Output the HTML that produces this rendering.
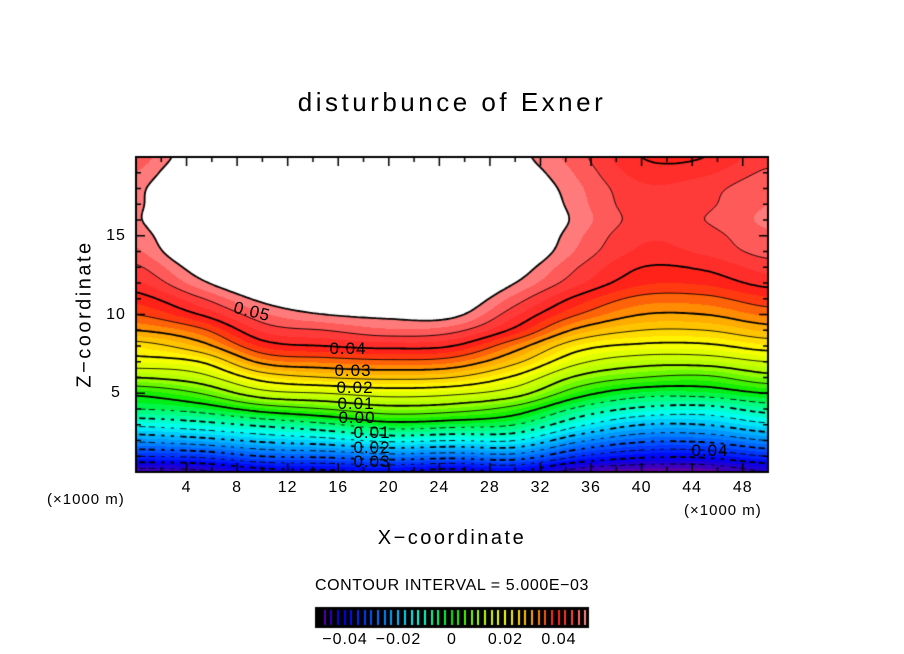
<!DOCTYPE html>
<html><head><meta charset="utf-8"><style>
body{margin:0;background:#fff;width:904px;height:654px;overflow:hidden;position:relative;font-family:"Liberation Sans",sans-serif}
.t{position:absolute;color:#000;white-space:nowrap}
</style></head><body>
<div class="t" style="left:0;width:904px;text-align:center;top:87px;font-size:26px;letter-spacing:3.5px">disturbunce of Exner</div>
<div class="t" style="left:85px;top:314px;font-size:20px;letter-spacing:2.5px;transform:translate(-50%,-50%) rotate(-90deg)">Z−coordinate</div>
<div class="t" style="left:0;width:904px;text-align:center;top:527px;font-size:20px;letter-spacing:2.5px">X−coordinate</div>
<div class="t" style="left:47px;top:491px;font-size:15px;letter-spacing:1px">(×1000 m)</div>
<div class="t" style="left:684px;top:502px;font-size:15px;letter-spacing:1px">(×1000 m)</div>
<div class="t" style="left:0;width:904px;text-align:center;top:577px;font-size:16px;letter-spacing:0.6px">CONTOUR INTERVAL = 5.000E−03</div>
<canvas id="c" width="904" height="654" style="position:absolute;left:0;top:0"></canvas>
<div id="lbl"></div>
<script>
const xs=[0,5,10,15,20,25,30,35,40,45,50];
const zs=[0,1,2,3,4,5,6,7,8,9,10,12,14,16,18,20];
const colX0=[-0.047,-0.035,-0.024,-0.014,-0.005,0.001,0.010,0.018,0.023,0.030,0.035,0.042,0.047,0.0495,0.049,0.046];
const colX5=[-0.046,-0.034,-0.022,-0.012,-0.003,0.005,0.013,0.020,0.028,0.034,0.040,0.049,0.055,0.058,0.058,0.054];
const colX10=[-0.042,-0.030,-0.019,-0.009,0.002,0.013,0.022,0.031,0.038,0.043,0.047,0.055,0.060,0.064,0.064,0.063];
const colX15=[-0.041,-0.029,-0.017,-0.006,0.005,0.015,0.025,0.033,0.040,0.045,0.050,0.058,0.064,0.067,0.067,0.066];
const colX20=[-0.040,-0.027,-0.014,-0.002,0.008,0.017,0.026,0.034,0.041,0.047,0.051,0.058,0.065,0.068,0.068,0.067];
const colX25=[-0.042,-0.028,-0.015,-0.003,0.007,0.016,0.025,0.033,0.040,0.046,0.051,0.057,0.063,0.066,0.066,0.064];
const colX30=[-0.040,-0.027,-0.015,-0.005,0.003,0.012,0.019,0.026,0.032,0.039,0.043,0.050,0.055,0.057,0.055,0.052];
const colX35=[-0.047,-0.035,-0.024,-0.014,-0.006,0.002,0.009,0.016,0.022,0.029,0.035,0.043,0.047,0.049,0.048,0.046];
const colX40=[-0.049,-0.039,-0.029,-0.020,-0.011,-0.003,0.005,0.012,0.019,0.025,0.030,0.038,0.042,0.044,0.043,0.040];
const colX45=[-0.049,-0.039,-0.029,-0.020,-0.012,-0.003,0.004,0.012,0.019,0.025,0.030,0.038,0.043,0.045,0.044,0.040];
const colX50=[-0.045,-0.035,-0.025,-0.016,-0.008,0.000,0.008,0.015,0.022,0.028,0.033,0.041,0.046,0.048,0.047,0.044];
const columns=[colX0,colX5,colX10,colX15,colX20,colX25,colX30,colX35,colX40,colX45,colX50];
const xTicks=[4,8,12,16,20,24,28,32,36,40,44,48];
const yTicks=[5,10,15];
const cbTicks=[-0.04,-0.02,0,0.02,0.04];
const cbTickLabels=["−0.04","−0.02","0","0.02","0.04"];

const L=136,R=768,T=157,B=472,XMAX=50,ZMAX=20;
const sx=x=>L+(x/XMAX)*(R-L), sz=z=>B-(z/ZMAX)*(B-T);
const U=columns.map(col=>{const o=[];for(let z=0;z<=20;z++){let i=0;while(i<zs.length-2&&zs[i+1]<z)i++;const t=(z-zs[i])/(zs[i+1]-zs[i]);o.push(col[i]+(col[i+1]-col[i])*Math.max(0,Math.min(1,t)));}return o;});
const NX=U.length,NZ=21,DX=xs[1]-xs[0];
function cr(p0,p1,p2,p3,t){return 0.5*(2*p1+(-p0+p2)*t+(2*p0-5*p1+4*p2-p3)*t*t+(-p0+3*p1-3*p2+p3)*t*t*t);}
function g(i,j){i=Math.max(0,Math.min(NX-1,i));j=Math.max(0,Math.min(NZ-1,j));return U[i][j];}
function val(x,z){const fx=x/DX,fz=z;let i=Math.min(NX-2,Math.floor(fx)),j=Math.min(NZ-2,Math.floor(fz));const tx=fx-i,tz=fz-j;const r=[];for(let a=-1;a<=2;a++)r.push(cr(g(i+a,j-1),g(i+a,j),g(i+a,j+1),g(i+a,j+2),tz));return cr(r[0],r[1],r[2],r[3],tx);}
const stops=[[-0.05,[110,0,160]],[-0.045,[40,0,200]],[-0.04,[0,0,245]],[-0.03,[0,90,255]],[-0.02,[0,190,255]],[-0.014,[0,255,240]],[-0.007,[0,255,140]],[0,[0,235,0]],[0.01,[170,255,0]],[0.02,[255,255,0]],[0.03,[255,160,0]],[0.038,[255,30,20]],[0.044,[255,60,60]],[0.05,[255,140,140]]];
function color(v){if(v<=stops[0][0])return stops[0][1];for(let k=1;k<stops.length;k++){if(v<=stops[k][0]){const a=stops[k-1],b=stops[k],t=(v-a[0])/(b[0]-a[0]);return a[1].map((c,q)=>Math.round(c+(b[1][q]-c)*t));}}return stops[stops.length-1][1];}
const cv=document.getElementById('c'),ctx=cv.getContext('2d');
const W=R-L,H=B-T,img=ctx.createImageData(W,H);
for(let py=0;py<H;py++)for(let px=0;px<W;px++){const x=(px+0.5)/W*XMAX,z=(H-py-0.5)/H*ZMAX;const v=val(x,z);let c;if(v>0.05)c=[255,255,255];else{const q=(Math.floor(v/0.0025)+0.5)*0.0025;c=color(q);}const o=(py*W+px)*4;img.data[o]=c[0];img.data[o+1]=c[1];img.data[o+2]=c[2];img.data[o+3]=255;}
ctx.putImageData(img,L,T);
const FX=200,FZ=160,F=[];for(let i=0;i<=FX;i++){F.push([]);for(let j=0;j<=FZ;j++)F[i].push(val(i/FX*XMAX,j/FZ*ZMAX));}
for(let k=-10;k<=10;k++){const lev=k*0.005;const thick=(k%2===0);ctx.strokeStyle='#000';ctx.lineWidth=thick?1.8:0.9;ctx.beginPath();
for(let i=0;i<FX;i++)for(let j=0;j<FZ;j++){const c=[[i,j],[i+1,j],[i+1,j+1],[i,j+1]];const vv=c.map(p=>F[p[0]][p[1]]);const pts=[];for(let e=0;e<4;e++){const a=vv[e],b=vv[(e+1)%4];if((a<lev)!==(b<lev)){const t=(lev-a)/(b-a);const p=c[e],q=c[(e+1)%4];pts.push([p[0]+(q[0]-p[0])*t,p[1]+(q[1]-p[1])*t]);}}
for(let m=0;m+1<pts.length;m+=2){const X1=sx(pts[m][0]/FX*XMAX),Y1=sz(pts[m][1]/FZ*ZMAX),X2=sx(pts[m+1][0]/FX*XMAX),Y2=sz(pts[m+1][1]/FZ*ZMAX);if(lev<0&&Math.floor((X1+X2)/2/5)%2===1)continue;ctx.moveTo(X1,Y1);ctx.lineTo(X2,Y2);}}
ctx.stroke();}
ctx.lineWidth=2;ctx.strokeStyle='#000';ctx.strokeRect(L,T,W,H);ctx.lineWidth=1.5;ctx.beginPath();
for(let x=2;x<50;x+=2){const l=(x%4===0)?9:5;ctx.moveTo(sx(x),B);ctx.lineTo(sx(x),B-l);ctx.moveTo(sx(x),T);ctx.lineTo(sx(x),T+l);}
for(let z=1;z<20;z++){const l=(z%5===0)?9:5;ctx.moveTo(L,sz(z));ctx.lineTo(L+l,sz(z));ctx.moveTo(R,sz(z));ctx.lineTo(R-l,sz(z));}
ctx.stroke();
const lbl=document.getElementById('lbl');
function addT(txt,x,y,fs,name,rot){const d=document.createElement('div');d.className='t';d.textContent=txt;d.style.fontSize=fs+'px';d.style.letterSpacing='1px';d.style.left=x+'px';d.style.top=y+'px';d.style.transform='translate(-50%,-50%)'+(rot?' rotate('+rot+'deg)':'');


lbl.appendChild(d);}
xTicks.forEach(x=>addT(String(x),sx(x),488,16,'x-tick-label'));
yTicks.forEach(z=>addT(String(z),116,sz(z),16,'y-tick-label'));
[["0.05",252,312,14],["0.04",348,349,0],["0.03",353,371,0],["0.02",355,388,0],["0.01",356,404,0],["0.00",357,418,0],["0.01",372,433,0],["0.02",372,448,0],["0.03",372,462,0],["0.04",710,451,0]].forEach(a=>addT(a[0],a[1],a[2],17,'contour-label',a[3]));
const CL=316,CR=588,CT=608,CB=627;ctx.fillStyle='#000';ctx.fillRect(CL,CT,CR-CL,CB-CT);
const cbx=v=>452+v/0.02*53.5;
for(let k=0;k<42;k++){const v=-0.0505+k*0.0025;const X=cbx(v);if(X<CL+3||X>CR-2)continue;const c=color(v);ctx.fillStyle='rgb('+c.join(',')+')';ctx.fillRect(Math.round(X),CT+2,2,CB-CT-4);}
ctx.lineWidth=2;ctx.strokeRect(CL,CT,CR-CL,CB-CT);
cbTicks.forEach((v,i)=>addT(cbTickLabels[i],cbx(v),640,16,'colorbar-tick-label'));
</script>
</body></html>
